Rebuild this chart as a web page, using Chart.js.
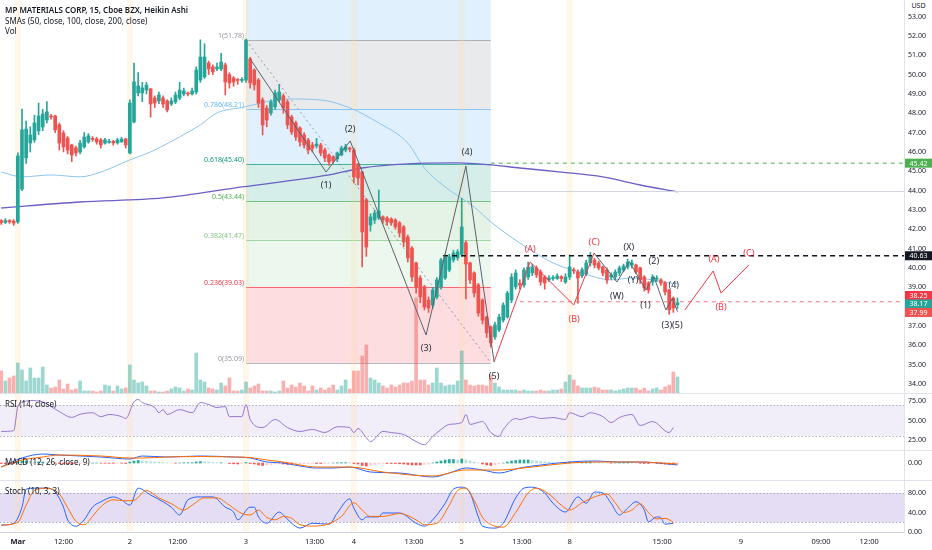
<!DOCTYPE html>
<html>
<head>
<meta charset="utf-8">
<title>MP Materials 15m Heikin Ashi</title>
<script src="https://cdn.jsdelivr.net/npm/chart.js@4.4.1/dist/chart.umd.min.js"></script>
<style>
  html, body { margin: 0; padding: 0; background: #fff; }
  body { width: 932px; height: 550px; position: relative; overflow: hidden; font-family: 'Noto Sans', sans-serif; color: #131722; }
  .pane { position: absolute; left: 0; width: 932px; }
  .txt { position: absolute; font-size: 8px; line-height: 10px; white-space: nowrap; z-index: 5; }
</style>
</head>
<body>
<div class="pane" style="top:0;height:393px"><canvas id="priceChart"></canvas></div>
<div class="pane" style="top:393px;height:57px"><canvas id="rsiChart"></canvas></div>
<div class="pane" style="top:450px;height:30px"><canvas id="macdChart"></canvas></div>
<div class="pane" style="top:480px;height:70px"><canvas id="stochChart"></canvas></div>

<div class="txt" style="left:5px;top:5px;font-weight:600">MP MATERIALS CORP, 15, Cboe BZX, Heikin Ashi</div>
<div class="txt" style="left:5px;top:16px">SMAs (50, close, 100, close, 200, close)</div>
<div class="txt" style="left:5px;top:26px">Vol</div>
<div class="txt" style="left:5px;top:399px">RSI (14, close)</div>
<div class="txt" style="left:5px;top:457px">MACD (12, 26, close, 9)</div>
<div class="txt" style="left:5px;top:486px">Stoch (10, 3, 3)</div>
<div class="txt" style="left:905px;top:1px;width:27px;text-align:center;background:#fff;font-size:7px">USD</div>

<script>
// Heikin Ashi 15m bars, index 0 = last bars of the previous session
// day starts: Mar 1 = 4, Mar 2 = 31, Mar 3 = 59, Mar 4 = 85, Mar 5 = 111, Mar 8 = 137
const openP = [
  42.45,42.35,42.45,42.42,42.38,44.08,45.69,46.46,46.62,47.09,47.29,47.65,47.86,47.86,47.40,46.98,46.72,46.36,46.21,46.00,46.26,46.52,46.70,46.67,46.62,46.46,46.50,46.55,46.47,46.52,46.67,
  45.95,47.55,49.05,49.05,49.20,49.26,48.79,48.64,48.79,48.64,48.48,48.59,48.79,49.00,49.05,49.00,49.10,49.72,49.88,50.60,50.40,50.30,50.29,50.50,50.00,49.83,49.75,49.70,
  49.72,50.81,50.24,49.72,48.69,48.27,48.02,48.33,48.69,48.90,48.59,47.81,47.50,47.24,46.88,46.62,46.36,46.31,46.36,46.10,45.84,45.74,45.64,45.84,46.10,46.20,
  46.10,45.38,44.96,43.52,42.22,42.48,42.58,42.64,42.58,42.53,42.48,42.33,42.12,41.60,41.03,40.26,39.48,39.02,38.34,38.08,38.50,39.02,39.48,39.89,40.41,40.52,
  40.70,41.30,40.26,39.74,39.12,38.34,37.46,36.95,36.43,36.79,37.30,37.46,38.34,39.02,39.20,39.12,39.53,39.74,40.00,39.79,39.53,39.38,39.45,39.45,39.55,39.27,
  39.53,39.90,39.79,39.60,39.69,40.26,40.41,40.26,40.05,39.89,39.53,39.53,39.74,39.89,40.05,40.15,40.15,40.00,39.53,39.22,39.27,39.42,39.38,39.22,38.86,38.44,38.10
];
const closeP = [
  42.35,42.45,42.38,42.32,45.79,47.14,47.19,46.88,47.50,47.86,47.96,48.07,47.81,47.14,46.46,46.26,46.10,45.84,45.95,46.46,46.77,46.83,46.65,46.52,46.36,46.62,46.55,46.47,46.62,46.67,46.36,
  48.53,49.62,49.41,49.31,49.46,48.48,48.53,48.95,48.48,48.17,48.64,48.95,49.20,49.15,49.00,49.15,50.24,50.91,50.91,50.29,50.14,50.40,50.65,49.62,49.57,49.62,49.70,49.75,
  51.79,49.57,49.47,48.53,47.40,47.65,48.59,49.05,49.10,48.27,47.40,47.03,46.77,46.52,46.36,46.10,46.20,46.41,45.95,45.69,45.48,45.53,45.95,46.20,46.26,46.15,
  44.71,44.65,41.86,41.08,42.64,42.84,42.95,42.48,42.38,42.33,42.12,41.81,41.34,40.52,39.53,39.02,38.50,37.98,37.93,38.86,39.38,40.41,40.57,40.57,40.77,40.83,
  42.12,40.20,39.38,38.70,37.67,37.30,36.64,36.12,37.05,37.46,38.08,38.70,39.53,39.74,39.12,39.89,40.05,40.05,39.64,39.27,39.22,39.48,39.50,39.58,39.45,39.53,
  40.05,39.85,39.48,39.90,40.26,40.57,40.15,40.00,39.74,39.38,39.64,39.79,40.00,40.10,40.31,40.26,39.79,39.38,38.96,38.86,39.53,39.45,39.22,38.76,37.83,37.93,38.20
];
const highP = [
  42.5,42.55,42.5,42.5,45.95,48.22,47.6,47.3,47.9,48.53,48.2,48.6,47.95,47.9,47.5,47.1,46.8,46.4,46.3,46.6,47.0,46.95,46.8,46.75,46.7,46.7,46.65,46.6,46.7,46.75,46.7,
  48.7,50.6,50.1,49.6,49.6,49.3,48.9,49.1,48.9,48.7,48.8,49.1,49.6,49.3,49.1,49.3,50.4,51.8,51.6,50.7,50.5,50.6,51.1,50.6,50.1,49.9,49.8,49.85,
  51.84,50.9,50.3,49.8,48.8,48.4,48.7,49.2,49.5,49.0,48.7,47.9,47.6,47.3,47.0,46.7,46.5,46.7,46.45,46.2,45.9,45.8,46.0,46.3,46.4,46.25,
  46.2,45.4,45.0,43.6,42.8,43.0,44.03,42.7,42.65,42.6,42.55,42.4,42.2,41.7,41.1,40.3,39.6,39.1,38.5,39.0,39.5,40.5,40.7,40.7,40.9,40.95,
  43.6,41.4,40.3,39.8,39.2,38.4,37.5,37.0,37.2,37.6,38.2,38.8,39.7,39.9,39.4,40.0,40.3,40.2,40.1,39.9,39.6,39.6,39.6,39.7,39.6,39.7,
  40.67,40.0,39.9,40.0,40.4,40.8,40.5,40.35,40.1,40.0,39.75,39.9,40.1,40.2,40.45,40.4,40.2,40.05,39.6,39.3,39.65,39.6,39.45,39.3,38.9,38.5,38.45
];
const lowP = [
  42.25,42.3,42.3,42.2,42.3,44.0,45.4,46.0,46.5,46.9,47.1,47.5,47.7,47.0,46.1,46.0,45.9,45.5,45.8,45.9,46.2,46.45,46.55,46.4,46.2,46.4,46.45,46.35,46.4,46.5,46.2,
  45.9,47.5,48.9,48.6,49.0,47.8,48.3,48.5,48.3,48.07,48.4,48.5,48.7,48.9,48.9,48.95,49.0,49.6,49.8,50.0,50.0,50.2,50.2,48.95,49.3,49.4,49.5,49.6,
  49.6,49.3,49.2,48.3,46.88,47.3,47.9,48.2,48.6,48.0,47.2,46.9,46.6,46.3,46.2,45.9,46.0,46.2,45.8,45.5,45.3,45.4,45.5,45.8,46.0,46.0,
  44.4,44.3,40.05,40.6,41.9,42.3,42.5,42.3,42.2,42.2,42.0,41.6,41.1,40.3,39.3,38.7,38.2,37.83,37.7,37.9,38.4,38.9,39.4,39.8,40.3,40.4,
  40.6,38.4,39.2,38.5,37.5,37.1,36.4,35.9,36.3,36.7,37.2,37.4,38.2,38.9,38.9,39.0,39.4,39.6,39.5,39.1,38.9,39.3,39.35,39.4,39.3,39.2,
  39.4,39.7,38.18,39.5,39.6,40.1,40.0,39.9,39.6,39.2,39.4,39.4,39.6,39.8,39.95,40.0,39.7,39.2,38.8,38.7,39.1,39.3,39.1,38.6,37.6,37.7,37.9
];
// volume, thousands of shares
const volumeK = [
  220,120,150,170,300,230,120,250,150,150,260,80,50,60,130,40,90,30,40,120,20,20,20,10,20,80,70,20,70,40,50,
  280,130,100,110,70,20,20,10,10,20,40,60,50,20,40,30,400,130,110,50,40,30,100,70,150,20,20,30,
  110,50,70,90,20,20,20,10,20,120,50,80,60,100,70,20,70,30,50,30,50,80,30,70,130,40,
  220,220,370,480,150,130,100,70,50,80,60,80,100,100,120,950,130,130,80,100,250,100,70,80,80,120,
  420,130,80,70,80,80,70,180,100,60,30,30,30,30,20,30,20,20,20,30,20,20,30,30,40,110,
  180,130,70,50,50,50,60,50,30,30,30,20,30,40,50,50,50,30,50,20,40,50,30,60,80,210,160
];

// moving averages (bar index, price)
const sma50Idx = [0,5,12,19,24,31,36,43,48,52,58,69,77,84,91,98,102,107,114,118,125,133,140,147,152,157,161,163];
const sma50Val = [44.96,44.71,44.81,44.71,44.96,45.59,46.0,46.78,47.40,48.02,48.30,48.74,48.69,48.28,47.5,46.46,45.17,44.19,43.15,42.38,41.29,40.26,39.74,39.38,39.48,39.38,39.22,39.2];
const sma200Idx = [0,19,39,58,79,87,98,110,118,125,135,145,154,163];
const sma200Val = [43.10,43.41,43.62,44.19,44.81,45.17,45.38,45.43,45.33,45.17,44.96,44.71,44.29,43.93];

// fibonacci retracement
const fibLevels = [1, 0.786, 0.618, 0.5, 0.382, 0.236, 0];
const fibPrices = [51.78, 48.21, 45.40, 43.44, 41.47, 39.03, 35.09];
const fibFrom = 59, fibTo = 118;

// elliott wave drawings (bar index, price)
const impulseBars = [60, 78.3, 84.1, 102.4, 112, 118.8];
const impulsePrices = [50.81, 44.96, 46.57, 36.53, 45.27, 35.14];
const abcBars = [118.8, 127.5, 138, 142.9];
const abcPrices = [35.14, 40.31, 38.08, 40.77];
const wxyBars = [142.9, 148.4, 151.4, 155.4, 157.3, 160.2, 161.8, 163];
const wxyPrices = [40.77, 39.27, 40.32, 38.86, 39.55, 37.83, 38.43, 37.74];
const projBars = [164.8, 171.6, 173.5, 180.2];
const projPrices = [37.83, 39.84, 38.7, 40.15];

const waveText = ['(1)','(2)','(3)','(4)','(5)','(W)','(X)','(Y)','(1)','(2)','(4)','(3)(5)'];
const waveBar = [78.3, 84.1, 102.4, 112.3, 118.8, 148.4, 151.3, 152.3, 155.3, 157.3, 162.1, 161.7];
const wavePrice = [44.29, 47.19, 35.81, 46.0, 34.41, 38.55, 41.08, 39.33, 38.08, 40.36, 39.07, 37.05];
const corrText = ['(A)','(B)','(C)','(A)','(B)','(C)'];
const corrBar = [127.5, 138.1, 142.9, 171.8, 173.5, 180.2];
const corrPrice = [40.98, 37.36, 41.34, 40.46, 37.98, 40.77];

// horizontal rays
const rayPrices = [45.42, 43.95, 40.63, 38.25];
const rayFrom = [118, 118, 106.5, 125];
const tagPrices = [45.42, 40.63, 38.25, 38.17, 37.99];

// indicators (bar index, value)
const rsiIdx = [0,3,4,5,7,10,12,14,17,19,22,24,26,29,30,32,33,34,37,38,39,40,43,46,48,50,52,54,55,58,59,60,63,66,69,72,75,78,81,84,85,86,88,89,92,94,97,100,102,104,106,108,111,112,113,116,118,120,121,124,125,128,130,133,136,137,140,142,145,147,149,152,154,157,161,162];
const rsiVal = [36,37,68,73,75.6,74,68,61.5,54,58,60,55,57.7,55,52.6,74,77,73,66.7,60,64,57.7,64,60,73,70.5,66.7,68,55,55,70.5,51.3,41,51.3,41,36,38.5,34.6,42,41,34.6,39.7,28,23,36,34.6,32,23,19,29.5,38.5,45,47.4,57.7,45,48.7,34.6,29.5,38.5,52.6,51.3,55,52.6,53.8,51.3,60,55,60,55,47.4,53.8,57.7,43.6,48.7,34.6,41];

const macdIdx = [0,5,10,14,24,31,34,40,48,56,60,64,68,72,76,80,84,89,96,104,108,112,116,120,125,130,137,143,149,154,161,163];
const macdVal = [-0.4,0.5,0.9,0.8,0.6,0.4,0.7,0.6,0.7,0.6,0.5,0.1,0.0,-0.3,-0.5,-0.5,-0.4,-0.9,-1.0,-1.4,-1.0,-0.5,-0.7,-1.0,-0.5,-0.2,0.1,0.2,0.1,0.1,-0.1,-0.2];
const signalIdx = [0,5,10,14,24,31,34,40,48,56,60,64,68,72,76,80,84,92,104,112,120,128,137,143,149,154,161,163];
const signalVal = [-0.4,0.3,0.6,0.8,0.7,0.5,0.5,0.6,0.65,0.6,0.55,0.3,0.1,-0.2,-0.4,-0.4,-0.4,-0.9,-1.3,-0.7,-0.7,-0.4,0.0,0.1,0.1,0.1,-0.05,-0.1];
const macdHist = [
  -0.05,-0.05,-0.05,-0.05,0.15,0.2,0.2,0.15,0.1,0.1,0.1,0.05,0.02,-0.02,-0.05,-0.08,-0.1,-0.1,-0.08,-0.05,-0.03,-0.02,0,0,-0.02,-0.02,-0.03,-0.03,-0.02,-0.02,-0.05,
  0.1,0.2,0.25,0.2,0.15,0.12,0.1,0.08,0.05,0.02,0,-0.02,0,0.02,0.02,0.03,0.1,0.15,0.12,0.1,0.05,0.02,0.02,0,-0.05,-0.08,-0.1,-0.08,
  0.05,-0.05,-0.1,-0.2,-0.25,-0.2,-0.15,-0.1,-0.08,-0.1,-0.15,-0.15,-0.12,-0.1,-0.08,-0.06,-0.04,-0.05,-0.05,-0.04,-0.03,0,0.02,0.03,0.03,0.02,
  -0.05,-0.1,-0.25,-0.3,-0.25,-0.15,-0.1,-0.05,-0.05,-0.05,-0.05,-0.08,-0.1,-0.15,-0.2,-0.2,-0.2,-0.15,-0.1,0,0.1,0.2,0.3,0.35,0.35,0.3,
  0.4,0.3,0.2,0.1,0,-0.1,-0.2,-0.25,-0.2,-0.1,0,0.1,0.2,0.25,0.3,0.3,0.3,0.25,0.2,0.15,0.1,0.08,0.05,0.03,0.02,0.05,
  0.1,0.08,0.05,0.05,0.08,0.1,0.08,0.05,0.02,0,-0.02,0,0.02,0.03,0.05,0.03,0,-0.03,-0.05,-0.05,-0.03,-0.05,-0.08,-0.12,-0.15,-0.15,-0.12
];

const kIdx = [0,3,5,6,8,11,13,15,16,18,20,22,24,27,29,31,33,36,39,41,43,45,48,51,54,56,57,60,61,62,64,67,68,70,72,75,79,81,84,85,87,88,91,92,96,100,102,104,107,109,111,113,115,116,119,121,124,126,128,131,133,136,139,141,143,145,147,149,151,153,155,156,158,159,160,162];
const kVal = [14,18,51,88,90,90,82,51,25,12,25,51,62,72,66,55,90,76,62,51,35,66,72,72,51,41,25,51,51,31,18,41,35,18,8,18,16,39,68,49,25,31,31,39,39,18,12,25,59,88,92,80,31,12,8,18,70,90,92,80,59,41,72,59,82,80,59,35,49,62,45,21,31,29,16,18];
const dIdx = [0,4,6,8,11,14,16,18,20,22,24,27,30,32,35,38,41,44,46,49,52,55,58,60,62,64,66,68,70,72,75,79,82,85,87,89,92,96,100,102,105,108,110,112,114,116,119,121,124,127,129,132,135,137,140,143,146,148,150,152,154,156,158,160,162];
const dVal = [14,20,55,85,90,78,50,22,15,32,52,66,64,65,85,70,58,45,55,70,70,55,38,35,45,30,25,32,28,15,12,17,32,60,45,32,32,38,25,15,18,55,85,90,65,30,12,10,40,80,90,78,55,45,60,72,78,60,40,45,58,40,27,28,20];

// axis ticks
const sessionBars = [4, 31, 59, 85, 111, 137];
const tickBars = [4, 15, 31, 42.5, 59, 75.5, 85, 99.5, 111, 125.5, 137, 159.3, 178.3, 197.6, 209.2];
const tickText = ['Mar','12:00','2','12:00','3','13:00','4','13:00','5','13:00','8','15:00','9','09:00','12:00'];
const priceTicks = [34,35,36,37,38,39,40,41,42,43,44,45,46,47,48,49,50,51,52,53];

// ---------------------------------------------------------------
Chart.defaults.font.family = "'Noto Sans', 'DejaVu Sans', sans-serif";
Chart.defaults.color = '#131722';

const X_MIN = -0.3, X_MAX = 217.6;
const UP = '#26a69a', DN = '#ef5350';
const bars = openP.map((_, i) => i);
const isUp = bars.map(i => closeP[i] >= openP[i]);

function xAxis(show) {
  const ax = {
    type: 'linear', min: X_MIN, max: X_MAX, display: show, offset: false,
    grid: { display: false, drawTicks: false },
    border: { display: true, color: '#d1d4dc' },
    afterBuildTicks: s => { s.ticks = tickBars.map(v => ({ value: v })); },
    ticks: {
      autoSkip: false, maxRotation: 0, padding: 5, color: '#131722',
      font: c => ({ size: 7.5, weight: tickText[c.index] === 'Mar' ? '700' : '400' }),
      callback: (v, i) => tickText[i]
    }
  };
  if (show) ax.afterFit = s => { s.height = 18; s.paddingLeft = 0; s.paddingRight = 0; };
  return ax;
}

function yAxis(min, max, ticks) {
  return {
    position: 'right', min, max,
    grid: { display: false, drawTicks: false },
    border: { display: true, color: '#e0e3eb' },
    afterBuildTicks: s => { s.ticks = ticks.map(v => ({ value: v })); },
    ticks: { padding: 4, color: '#131722', font: { size: 7 }, callback: v => v.toFixed(2) },
    afterFit: s => { s.width = 28; s.paddingTop = 0; s.paddingBottom = 0; }
  };
}

function options(scales) {
  return {
    responsive: true, maintainAspectRatio: false, animation: false, events: [],
    layout: { padding: 0 },
    plugins: { legend: { display: false }, tooltip: { enabled: false } },
    scales
  };
}

function line(label, xs, ys, color, width, order, smooth, dash) {
  return {
    type: 'line', label,
    data: xs.map((x, k) => ({ x, y: ys[k] })),
    borderColor: color, borderWidth: width, borderDash: dash || [],
    pointRadius: 0, fill: false, order,
    cubicInterpolationMode: smooth ? 'monotone' : 'default', tension: 0
  };
}

// session break stripes in every pane
const sessionPlugin = {
  id: 'sessions',
  beforeDatasetsDraw(chart) {
    const { ctx, chartArea: a, scales: { x } } = chart;
    ctx.save();
    ctx.fillStyle = 'rgba(255,214,150,0.2)';
    sessionBars.forEach(b => {
      const px = x.getPixelForValue(b);
      ctx.fillRect(px - 3, a.top, 6, a.bottom - a.top);
    });
    ctx.restore();
  }
};

const paneLine = {
  id: 'paneLine',
  afterDraw(chart) {
    const { ctx } = chart;
    ctx.save();
    ctx.strokeStyle = '#e0e3eb';
    ctx.beginPath(); ctx.moveTo(0, 0.5); ctx.lineTo(chart.width, 0.5); ctx.stroke();
    ctx.restore();
  }
};

function bandPlugin(lo, hi, fill) {
  return {
    id: 'band',
    beforeDatasetsDraw(chart) {
      const { ctx, chartArea: a, scales: { y } } = chart;
      const yHi = y.getPixelForValue(hi), yLo = y.getPixelForValue(lo);
      ctx.save();
      ctx.fillStyle = fill;
      ctx.fillRect(a.left, yHi, a.right - a.left, yLo - yHi);
      ctx.strokeStyle = 'rgba(120,123,134,0.55)';
      ctx.setLineDash([1.5, 2]);
      [yHi, yLo].forEach(py => {
        ctx.beginPath(); ctx.moveTo(a.left, Math.round(py) + 0.5); ctx.lineTo(a.right, Math.round(py) + 0.5); ctx.stroke();
      });
      ctx.restore();
    }
  };
}

const fibFill = ['rgba(120,123,134,0.16)','rgba(33,150,243,0.14)','rgba(8,153,129,0.17)','rgba(76,175,80,0.15)','rgba(129,199,132,0.15)','rgba(242,54,69,0.17)'];
const fibLine = ['#9598a1','#64b5f6','#089981','#4caf50','#81c784','#f23645','#9598a1'];

const fibPlugin = {
  id: 'fib',
  beforeDatasetsDraw(chart) {
    const { ctx, chartArea: a, scales: { x, y } } = chart;
    const x0 = x.getPixelForValue(fibFrom), x1 = x.getPixelForValue(fibTo);
    ctx.save();
    ctx.beginPath(); ctx.rect(a.left, a.top, a.right - a.left, a.bottom - a.top); ctx.clip();
    ctx.fillStyle = 'rgba(33,150,243,0.14)';
    ctx.fillRect(x0, a.top, x1 - x0, y.getPixelForValue(fibPrices[0]) - a.top);
    for (let k = 0; k < fibPrices.length - 1; k++) {
      const ya = y.getPixelForValue(fibPrices[k]), yb = y.getPixelForValue(fibPrices[k + 1]);
      ctx.fillStyle = fibFill[k];
      ctx.fillRect(x0, ya, x1 - x0, yb - ya);
    }
    ctx.font = "7px 'Noto Sans'";
    ctx.textAlign = 'right';
    ctx.textBaseline = 'bottom';
    fibPrices.forEach((p, k) => {
      const py = Math.round(y.getPixelForValue(p)) + 0.5;
      ctx.strokeStyle = fibLine[k];
      ctx.globalAlpha = 0.7;
      ctx.beginPath(); ctx.moveTo(x0, py); ctx.lineTo(x1, py); ctx.stroke();
      ctx.globalAlpha = 1;
      ctx.fillStyle = fibLine[k];
      ctx.fillText(fibLevels[k] + '(' + p.toFixed(2) + ')', x0 - 2, py - 1);
    });
    ctx.restore();
  }
};

const labelPlugin = {
  id: 'waveLabels',
  afterDatasetsDraw(chart) {
    const { ctx, scales: { x, y } } = chart;
    ctx.save();
    ctx.font = "9px 'Noto Sans'";
    ctx.textAlign = 'center';
    ctx.textBaseline = 'middle';
    ctx.fillStyle = '#2a2e39';
    waveText.forEach((t, k) => ctx.fillText(t, x.getPixelForValue(waveBar[k]), y.getPixelForValue(wavePrice[k])));
    ctx.fillStyle = '#f23645';
    corrText.forEach((t, k) => ctx.fillText(t, x.getPixelForValue(corrBar[k]), y.getPixelForValue(corrPrice[k])));
    ctx.restore();
  }
};

const tagColor = ['#4caf50', '#131722', '#f23645', '#26a69a', '#ef5350'];
const tagPlugin = {
  id: 'tags',
  afterDraw(chart) {
    const { ctx, chartArea: a, scales: { y } } = chart;
    const ys = tagPrices.map(p => y.getPixelForValue(p));
    // push overlapping tags apart, keep the cluster centred
    let start = 0;
    for (let k = 1; k <= ys.length; k++) {
      if (k < ys.length && ys[k] - ys[k - 1] < 8.5) continue;
      if (k - start > 1) {
        const orig = ys.slice(start, k);
        const mean = orig.reduce((s, v) => s + v, 0) / orig.length;
        const mid = (k - start - 1) / 2;
        for (let j = start; j < k; j++) ys[j] = mean + (j - start - mid) * 8.5;
      }
      start = k;
    }
    ctx.save();
    ctx.font = "7px 'Noto Sans'";
    ctx.textAlign = 'center';
    ctx.textBaseline = 'middle';
    tagPrices.forEach((p, k) => {
      ctx.fillStyle = tagColor[k];
      ctx.fillRect(a.right + 1, ys[k] - 4.5, 27, 9);
      ctx.fillStyle = '#fff';
      ctx.fillText(p.toFixed(2), a.right + 14.5, ys[k] + 0.5);
    });
    ctx.restore();
  }
};

// ---------------- price pane ----------------
const candleColor = isUp.map(u => u ? UP : DN);
const volColor = isUp.map(u => u ? 'rgba(38,166,154,0.45)' : 'rgba(239,83,80,0.45)');

const rayStyle = [
  { color: '#4caf50', dash: [4, 4], width: 1 },
  { color: '#d1d4dc', dash: [], width: 1 },
  { color: '#131722', dash: [5, 4], width: 1.5 },
  { color: '#f77c80', dash: [4, 4], width: 1.2 }
];

const priceSets = [
  { type: 'bar', label: 'Volume', yAxisID: 'vol', data: bars.map(i => ({ x: i, y: volumeK[i] })),
    backgroundColor: volColor, barThickness: 3, grouped: false, order: 20 },
  line('SMA 50', sma50Idx, sma50Val, '#8cc4ec', 1, 12, true),
  line('SMA 200', sma200Idx, sma200Val, '#6a5fc4', 1.3, 11, true),
  { type: 'bar', label: 'Wick', data: bars.map(i => ({ x: i, y: [lowP[i], highP[i]] })),
    backgroundColor: candleColor, barThickness: 1, grouped: false, order: 6 },
  { type: 'bar', label: 'Body', data: bars.map(i => ({ x: i, y: [openP[i], closeP[i]] })),
    backgroundColor: candleColor, barThickness: 3, grouped: false, minBarLength: 1, order: 5 },
  line('Fib trend', [fibFrom, fibTo], [fibPrices[0], fibPrices[6]], 'rgba(120,123,134,0.7)', 1, 2, false, [2, 3]),
  line('Impulse', impulseBars, impulsePrices, '#5d606b', 1, 1, false),
  line('ABC', abcBars, abcPrices, '#f23645', 1, 1, false),
  line('WXY', wxyBars, wxyPrices, '#5d606b', 1, 1, false),
  line('Projection', projBars, projPrices, '#f23645', 1, 1, false)
];
rayPrices.forEach((p, k) => {
  priceSets.push(line('Ray ' + p, [rayFrom[k], X_MAX], [p, p], rayStyle[k].color, rayStyle[k].width, 3, false, rayStyle[k].dash));
});

new Chart(document.getElementById('priceChart'), {
  type: 'bar',
  data: { datasets: priceSets },
  options: options({
    x: xAxis(false),
    y: yAxis(33.53, 53.86, priceTicks),
    vol: { axis: 'y', type: 'linear', position: 'left', display: false, min: 0, max: 3930 }
  }),
  plugins: [fibPlugin, sessionPlugin, labelPlugin, tagPlugin]
});

// ---------------- RSI ----------------
new Chart(document.getElementById('rsiChart'), {
  type: 'line',
  data: { datasets: [line('RSI', rsiIdx, rsiVal, '#9575cd', 1, 1, true)] },
  options: options({ x: xAxis(false), y: yAxis(12.2, 85.3, [25, 50, 75]) }),
  plugins: [bandPlugin(30, 70, 'rgba(126,87,194,0.1)'), sessionPlugin, paneLine]
});

// ---------------- MACD ----------------
const histColor = macdHist.map((h, i) => {
  const prev = i ? macdHist[i - 1] : h;
  if (h >= 0) return h >= prev ? '#26a69a' : '#b2dfdb';
  return h <= prev ? '#ff5252' : '#ffcdd2';
});
new Chart(document.getElementById('macdChart'), {
  type: 'bar',
  data: { datasets: [
    { type: 'bar', label: 'Histogram', data: bars.map(i => ({ x: i, y: macdHist[i] })),
      backgroundColor: histColor, barThickness: 2, grouped: false, order: 5 },
    line('MACD', macdIdx, macdVal, '#2962ff', 1, 2, true),
    line('Signal', signalIdx, signalVal, '#ff6d00', 1, 1, true)
  ] },
  options: options({ x: xAxis(false), y: yAxis(-1.7, 1.3, [0]) }),
  plugins: [sessionPlugin, paneLine]
});

// ---------------- Stochastic ----------------
new Chart(document.getElementById('stochChart'), {
  type: 'line',
  data: { datasets: [
    line('%K', kIdx, kVal, '#2962ff', 1, 2, true),
    line('%D', dIdx, dVal, '#ff6d00', 1, 1, true)
  ] },
  options: options({ x: xAxis(true), y: yAxis(0, 106.7, [0, 40, 80]) }),
  plugins: [bandPlugin(20, 80, 'rgba(126,87,194,0.2)'), sessionPlugin, paneLine]
});
</script>
</body>
</html>
